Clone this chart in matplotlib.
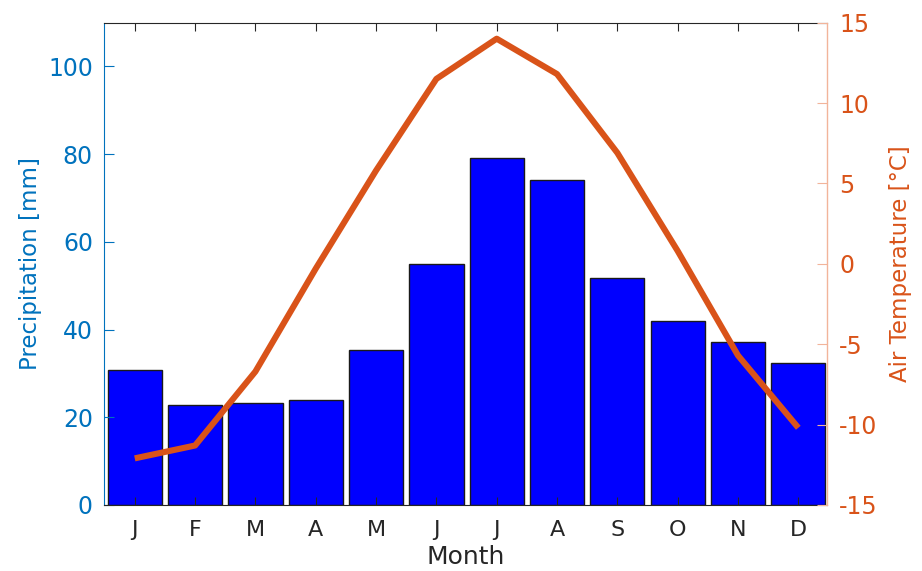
import matplotlib
matplotlib.use('Agg')
import matplotlib.pyplot as plt

# monthly climate data
months = ['J', 'F', 'M', 'A', 'M', 'J', 'J', 'A', 'S', 'O', 'N', 'D']
precip = [30.8, 22.7, 23.2, 23.9, 35.4, 54.9, 79.2, 74.1, 51.8, 42.0, 37.1, 32.4]
temp = [-12.1, -11.3, -6.7, -0.3, 5.8, 11.5, 14.0, 11.8, 6.9, 0.8, -5.7, -10.2]

blue_axis = '#0072BD'
orange = '#D95319'
orange_light = '#F2B49A'
dark = '#262626'


def main():
    plt.rcParams['font.family'] = 'DejaVu Sans'
    plt.rcParams['axes.unicode_minus'] = False
    x = list(range(1, len(months) + 1))

    fig = plt.figure(figsize=(9.22, 5.71), dpi=100)
    ax = fig.add_axes([0.1128, 0.1156, 0.7838, 0.8448])

    # precipitation bars
    ax.bar(x, precip, width=0.9, color='#0000FF', edgecolor='#1a1a1a', linewidth=1.0)
    ax.set_xlim(0.49, 12.47)
    ax.set_ylim(0, 110)
    ax.set_xticks(x)
    ax.set_xticklabels(months)
    ax.set_yticks([0, 20, 40, 60, 80, 100])

    ax.tick_params(axis='x', direction='in', length=6, width=0.8, colors=dark,
                   labelsize=16, pad=11, top=True)
    ax.tick_params(axis='y', direction='in', length=7, width=0.8, colors=blue_axis,
                   labelsize=17, pad=8)
    ax.spines['left'].set_color(blue_axis)
    ax.spines['bottom'].set_color(dark)
    ax.spines['top'].set_color(dark)
    ax.spines['right'].set_visible(False)
    for s in ax.spines.values():
        s.set_linewidth(0.8)

    ax.set_xlabel('Month', fontsize=18, color=dark)
    ax.xaxis.set_label_coords(0.5, -0.083)
    ax.set_ylabel('Precipitation [mm]', fontsize=16.5, color=blue_axis)
    ax.yaxis.set_label_coords(-0.0858, 0.5)

    # air temperature on the right axis
    ax2 = ax.twinx()
    ax2.plot(x, temp, color=orange, linewidth=4.4, solid_capstyle='butt')
    ax2.set_ylim(-15, 15)
    ax2.set_yticks([-15, -10, -5, 0, 5, 10, 15])
    ax2.tick_params(axis='y', direction='in', length=7, width=0.8, colors=orange_light,
                    labelcolor=orange, labelsize=17, pad=9)
    for name in ['left', 'top', 'bottom']:
        ax2.spines[name].set_visible(False)
    ax2.spines['right'].set_color(orange_light)
    ax2.spines['right'].set_linewidth(1.0)
    ax2.set_ylabel('Air Temperature [°C]', fontsize=16.5, color=orange)
    ax2.yaxis.set_label_coords(1.086, 0.5)

    fig.savefig('out.png', dpi=100, facecolor='white')


if __name__ == '__main__':
    main()
